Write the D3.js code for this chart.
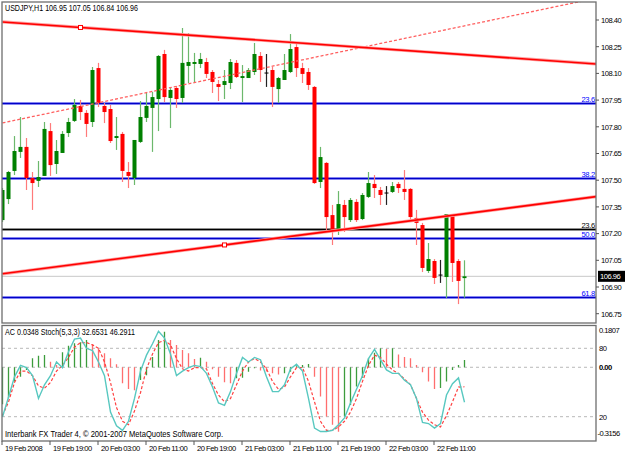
<!DOCTYPE html>
<html><head><meta charset="utf-8">
<script src="https://cdn.jsdelivr.net/npm/d3@7"></script>
<style>
html,body{margin:0;padding:0;background:#fff;}
svg{display:block;font-family:"Liberation Sans",Arial,sans-serif;}
</style></head><body>
<svg id="c" width="625" height="453"></svg>
<script>
// ---------------- DATA ----------------
const symbolTitle = "USDJPY,H1  106.95 107.05 106.84 106.96";
const indicatorTitle = "AC 0.0348  Stoch(5,3,3) 32.6531 46.2911";
const copyright = "Interbank FX Trader 4, \u00A9 2001-2007 MetaQuotes Software Corp.";

const openP = [107.276,107.394,107.552,107.659,107.687,107.512,107.496,107.524,107.776,107.591,
107.653,107.765,107.833,107.917,107.878,107.827,108.130,107.917,107.900,107.737,
107.760,107.546,107.512,107.715,107.850,107.906,107.956,108.209,107.962,108.018,
107.962,108.142,108.153,108.153,108.164,108.108,108.040,108.035,108.046,108.159,
108.074,108.074,108.108,108.198,108.102,108.119,108.012,108.063,108.108,108.248,
108.130,108.108,108.024,107.490,107.597,107.304,107.220,107.361,107.276,107.378,
107.282,107.406,107.479,107.445,107.428,107.434,107.479,107.451,107.451,107.288,
107.248,106.990,107.046,106.967,106.956,107.299,107.046,106.95];
const highP = [107.456,107.552,107.748,107.855,107.737,107.546,107.608,107.827,107.821,107.726,
107.776,107.850,107.956,107.951,107.894,108.136,108.159,107.934,107.923,107.855,
107.771,107.602,107.726,107.945,107.990,107.996,108.203,108.232,108.018,108.029,
108.355,108.327,108.215,108.215,108.187,108.119,108.063,108.119,108.181,108.175,
108.147,108.130,108.271,108.220,108.209,108.136,108.080,108.209,108.321,108.265,
108.159,108.130,108.029,107.687,107.602,107.361,107.439,107.389,107.400,107.394,
107.428,107.546,107.529,107.462,107.467,107.490,107.490,107.557,107.456,107.333,
107.260,107.147,107.057,107.052,107.310,107.304,107.057,107.05];
const lowP = [107.265,107.366,107.529,107.625,107.445,107.333,107.462,107.524,107.524,107.535,
107.653,107.743,107.827,107.838,107.743,107.799,107.911,107.821,107.709,107.670,
107.490,107.456,107.473,107.709,107.827,107.659,107.776,107.939,107.793,107.906,
107.934,108.046,108.046,108.130,108.074,107.990,107.945,107.956,108.012,108.074,
107.939,108.074,108.091,108.052,108.024,107.911,107.934,108.063,108.102,108.080,
108.046,108.007,107.479,107.456,107.220,107.136,107.192,107.209,107.265,107.265,
107.276,107.400,107.400,107.361,107.361,107.428,107.428,107.389,107.276,107.136,
106.984,106.979,106.917,106.923,106.838,106.928,106.804,106.84];
const closeP = [107.445,107.546,107.664,107.687,107.512,107.484,107.518,107.788,107.585,107.664,
107.760,107.827,107.923,107.883,107.816,108.119,107.934,107.883,107.720,107.748,
107.552,107.524,107.726,107.855,107.917,107.967,108.198,107.967,108.007,107.956,
108.159,108.164,108.164,108.181,108.097,108.052,108.024,108.057,108.164,108.080,
108.085,108.119,108.209,108.119,108.102,108.024,108.074,108.119,108.237,108.130,
108.097,108.035,107.484,107.630,107.293,107.215,107.366,107.293,107.389,107.276,
107.417,107.484,107.456,107.417,107.428,107.467,107.456,107.434,107.293,107.260,
107.007,107.057,106.951,106.967,107.310,107.035,106.934,106.96];

const acValues = [-0.178,-0.149,-0.069,-0.045,-0.013,0.043,0.056,0.059,0.027,0.011,
0.072,0.104,0.115,0.120,0.131,0.111,0.091,0.067,0.043,0.014,
-0.077,-0.104,-0.110,-0.061,-0.038,0.050,0.131,0.171,0.131,0.107,
0.083,0.067,0.040,0.046,0.027,-0.010,-0.045,-0.072,-0.077,-0.053,
-0.050,-0.021,-0.005,-0.015,-0.020,-0.029,-0.035,-0.029,-0.021,0.005,
0.011,0.016,-0.045,-0.141,-0.237,-0.277,-0.310,-0.237,-0.181,-0.093,
-0.050,0.043,0.070,0.091,0.088,0.091,0.062,0.050,0.043,0.011,
-0.024,-0.069,-0.104,-0.100,-0.069,-0.013,0.011,0.0348];
const stochMain = [20,37,55,65,63,56,36,48,56,68,
63,77,88,89,80,78,68,56,24,12,
8,16,36,60,74,84,95,89,75,56,
60,63,65,64,58,46,32,30,42,58,
72,68,72,70,55,42,42,48,62,66,
60,36,10,7,7,8,13,19,32,44,
56,71,79,70,61,58,58,52,48,36,
15,14,10,14,39,49,54,32.65];
const stochSignal = [21,33,50,60,60,56,47,45,50,60,
65,72,81,85,85,83,80,68,50,28,
16,13,25,41,62,75,85,87,83,71,
62,60,63,63,62,49,39,33,36,48,
60,68,71,68,62,51,44,46,55,63,
63,51,33,16,8,8,11,16,24,36,
51,65,74,72,66,61,58,53,48,36,
24,17,13,11,21,33,46,46.29];

const timeLabels = ["19 Feb 2008","19 Feb 19:00","20 Feb 03:00","20 Feb 11:00","20 Feb 19:00",
"21 Feb 03:00","21 Feb 11:00","21 Feb 19:00","22 Feb 03:00","22 Feb 11:00"];
const timeLabelBars = [0,8,16,24,32,40,48,56,64,72];
const priceTicks = [108.40,108.25,108.10,107.95,107.80,107.65,107.50,107.35,107.20,107.05,106.90,106.75];
const lastPrice = 106.96;
const fibPrices = [107.932,107.514,107.224,107.177,106.846];
const fibLabels = ["23.6","38.2","23.6","50.0","61.8"];
const trendTop = [[0,108.389],[99,108.153]];
const trendTopMarkerBar = 13;
const trendLow = [[0,106.974],[99,107.408]];
const trendLowMarkerBar = 37;
const trendDotted = [[0,107.822],[99,108.523]];
const acAxisLabels = [0.1807, 0.00, -0.3156];
const stochLevels = [80, 20];

// ---------------- LAYOUT ----------------
const svg = d3.select("#c");
const L = 2, R = 596, mainTop = 2, mainBot = 323, indTop = 325.5, indBot = 441;

const x = d3.scaleLinear().domain([0, 99]).range([2.5, 596.5]);
const y = d3.scaleLinear().domain([106.75, 108.40]).range([313.7, 20]);
const yAC = d3.scaleLinear().domain([-0.3156, 0.1807]).range([432.9, 329.7]);
const yST = d3.scaleLinear().domain([0, 100]).range([439.5, 325.5]);

const defs = svg.append("defs");
defs.append("clipPath").attr("id","mainClip").append("rect")
  .attr("x",L).attr("y",mainTop).attr("width",R-L).attr("height",mainBot-mainTop);
defs.append("clipPath").attr("id","indClip").append("rect")
  .attr("x",L).attr("y",indTop).attr("width",R-L).attr("height",indBot-indTop);

const smallFont = 7.6, ls = -0.5;
function txt(g, tx, ty, s, opts = {}) {
  const t = g.append("text").attr("x", tx).attr("y", ty).text(s)
    .attr("font-size", opts.size || smallFont)
    .attr("letter-spacing", opts.ls !== undefined ? opts.ls : ls)
    .attr("fill", opts.fill || "#000");
  if (opts.anchor) t.attr("text-anchor", opts.anchor);
  if (opts.len) t.attr("textLength", opts.len).attr("lengthAdjust","spacingAndGlyphs");
  if (opts.weight) t.attr("font-weight", opts.weight);
  return t;
}

// ---------------- MAIN PANEL ----------------
const main = svg.append("g").attr("clip-path","url(#mainClip)");

// current price line
main.append("line").attr("x1",L).attr("x2",R).attr("y1",y(lastPrice)).attr("y2",y(lastPrice))
  .attr("stroke","#c8c8c8").attr("stroke-width",1);

// fib horizontal lines
fibPrices.forEach((p,i) => {
  const yy = Math.round(y(p)) + 0.5;
  const col = i === 2 ? "#000" : "#0000c8";
  main.append("line").attr("x1",L).attr("x2",R).attr("y1",yy).attr("y2",yy)
    .attr("stroke", i === 2 ? "#999" : "#8080ff").attr("stroke-width",3).attr("opacity",0.6);
  main.append("line").attr("x1",L).attr("x2",R).attr("y1",yy).attr("y2",yy)
    .attr("stroke", col).attr("stroke-width",1.4);
});

// candles
const n = openP.length;
const bars = d3.range(n).map(i => ({i, o: openP[i], h: highP[i], l: lowP[i], c: closeP[i]}));
const cg = main.append("g");
bars.forEach(b => {
  const cx = x(b.i);
  const bull = b.c > b.o, doji = b.c === b.o;
  const wickCol = doji ? "#222" : (bull ? "#6cb86c" : "#ff7a7a");
  const bodyCol = doji ? "#000" : (bull ? "#008000" : "#ff0000");
  cg.append("line").attr("x1",cx).attr("x2",cx).attr("y1",y(b.h)).attr("y2",y(b.l))
    .attr("stroke",wickCol).attr("stroke-width",1.2);
  if (doji) {
    cg.append("line").attr("x1",cx-2).attr("x2",cx+2).attr("y1",y(b.o)).attr("y2",y(b.o))
      .attr("stroke",bodyCol).attr("stroke-width",1);
  } else {
    const top = y(Math.max(b.o,b.c)), bot = y(Math.min(b.o,b.c));
    cg.append("rect").attr("x",cx-2).attr("y",top).attr("width",4).attr("height",Math.max(1.5,bot-top))
      .attr("fill",bodyCol);
  }
});

// trend lines
function tline(pts, opts) {
  const ln = main.append("line")
    .attr("x1",x(pts[0][0])).attr("y1",y(pts[0][1]))
    .attr("x2",x(pts[1][0])).attr("y2",y(pts[1][1]))
    .attr("stroke",opts.color).attr("stroke-width",opts.w);
  if (opts.dash) ln.attr("stroke-dasharray",opts.dash);
}
function onLine(pts, bi) {
  const t = (bi - pts[0][0])/(pts[1][0]-pts[0][0]);
  return pts[0][1] + t*(pts[1][1]-pts[0][1]);
}
tline(trendDotted, {color:"#ff6060", w:1.3, dash:"3,2"});
tline(trendTop, {color:"#ffa0a0", w:3.2});
tline(trendTop, {color:"#ff0000", w:1.6});
tline(trendLow, {color:"#ffa0a0", w:3.2});
tline(trendLow, {color:"#ff0000", w:1.6});
[[trendTop,trendTopMarkerBar],[trendLow,trendLowMarkerBar]].forEach(([pts,bi]) => {
  main.append("rect").attr("x",x(bi)-2).attr("y",y(onLine(pts,bi))-2).attr("width",4).attr("height",4)
    .attr("fill","#fff").attr("stroke","#ff0000").attr("stroke-width",1);
});

// fib labels
fibPrices.forEach((p,i) => {
  txt(svg, 595, Math.round(y(p)) - 1.5, fibLabels[i], {anchor:"end", fill: i === 2 ? "#000" : "#0000ff", ls:-0.3});
});

// title
txt(svg, 5, 11, symbolTitle, {len:133, size:8.4, ls:0});

// main frame & price axis
svg.append("rect").attr("x",L).attr("y",mainTop).attr("width",R-L).attr("height",mainBot-mainTop)
  .attr("fill","none").attr("stroke","#6e6e6e").attr("stroke-width",1.3);
priceTicks.forEach(p => {
  const yy = y(p);
  svg.append("line").attr("x1",R).attr("x2",R+3).attr("y1",yy).attr("y2",yy).attr("stroke","#555");
  txt(svg, 601, yy + 2.8, p.toFixed(2));
});
// last price box
svg.append("rect").attr("x",598).attr("y",y(lastPrice)-5.5).attr("width",27).attr("height",11).attr("fill","#000");
txt(svg, 600, y(lastPrice)+2.8, lastPrice.toFixed(2), {fill:"#fff"});

// ---------------- INDICATOR PANEL ----------------
const ind = svg.append("g").attr("clip-path","url(#indClip)");
// dashed levels
stochLevels.forEach(v => {
  ind.append("line").attr("x1",L).attr("x2",R).attr("y1",yST(v)).attr("y2",yST(v))
    .attr("stroke","#b8b8b8").attr("stroke-dasharray","3,3");
});
ind.append("line").attr("x1",L).attr("x2",R).attr("y1",yAC(0)).attr("y2",yAC(0))
  .attr("stroke","#b8b8b8").attr("stroke-dasharray","3,3");

// AC histogram
acValues.forEach((v,i) => {
  const up = i === 0 ? true : v > acValues[i-1];
  ind.append("line").attr("x1",x(i)).attr("x2",x(i)).attr("y1",yAC(0)).attr("y2",yAC(v))
    .attr("stroke", up ? "#3c9c3c" : "#ff6e6e").attr("stroke-width",1.3);
});
// stochastic
const lineGen = yScale => d3.line().x((d,i) => x(i)).y(d => yScale(d));
ind.append("path").datum(stochSignal).attr("d", lineGen(yST))
  .attr("fill","none").attr("stroke","#ff4040").attr("stroke-width",1.2).attr("stroke-dasharray","3,2");
ind.append("path").datum(stochMain).attr("d", lineGen(yST))
  .attr("fill","none").attr("stroke","#58c8c0").attr("stroke-width",1.4);

txt(svg, 5, 335, indicatorTitle, {len:130, size:8.4, ls:0});
txt(svg, 5, 437, copyright, {len:218, size:8.4, ls:0});

svg.append("rect").attr("x",L).attr("y",indTop).attr("width",R-L).attr("height",indBot-indTop)
  .attr("fill","none").attr("stroke","#6e6e6e").attr("stroke-width",1.3);

// indicator axis labels
acAxisLabels.forEach(v => {
  const s = v === 0 ? "0.00" : v.toFixed(4);
  txt(svg, v < 0 ? 597.5 : 599, yAC(v) + 2.8, s, {weight: v === 0 ? "bold" : null});
});
stochLevels.forEach(v => txt(svg, 599, yST(v) + 2.8, String(v)));

// ---------------- TIME AXIS ----------------
timeLabelBars.forEach((bi,k) => {
  const tx = x(bi) - 0.5;
  svg.append("line").attr("x1",tx).attr("x2",tx).attr("y1",indBot).attr("y2",indBot+4).attr("stroke","#555");
  txt(svg, tx + 3, 451, timeLabels[k]);
});
</script>
</body></html>
